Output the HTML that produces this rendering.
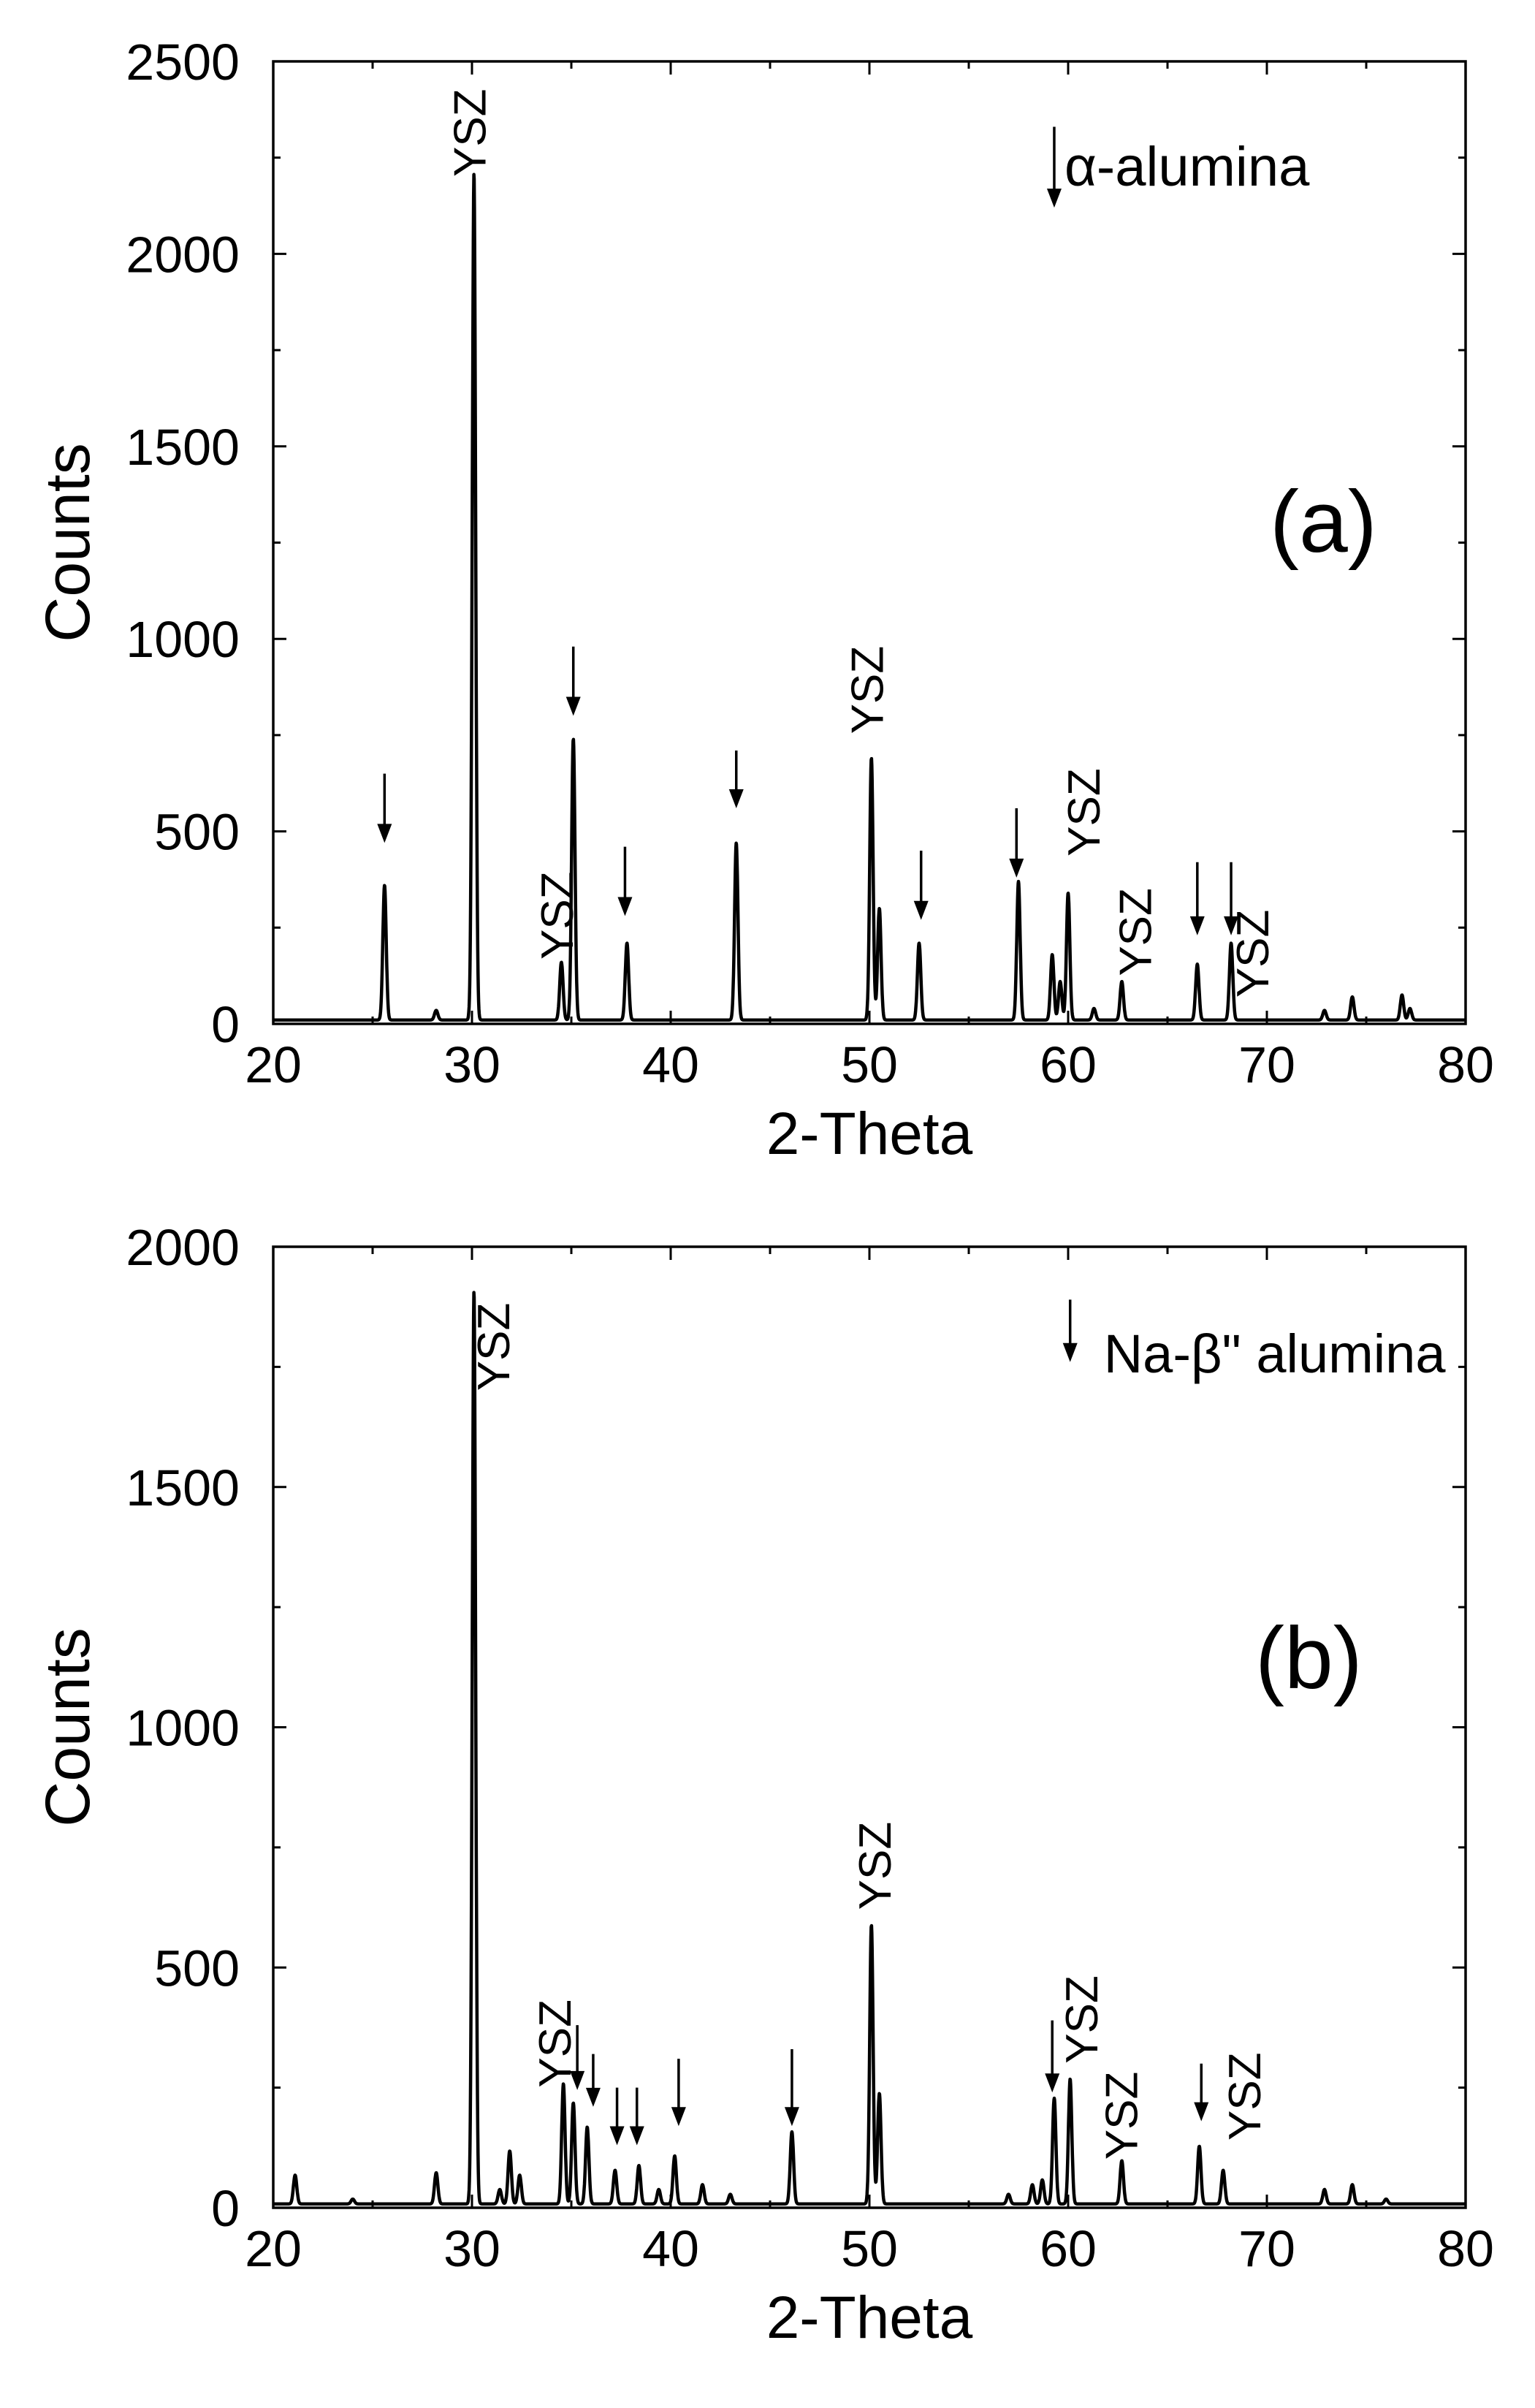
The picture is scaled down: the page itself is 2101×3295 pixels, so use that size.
<!DOCTYPE html>
<html><head><meta charset="utf-8"><style>
html,body{margin:0;padding:0;background:#fff;}
svg{display:block;font-family:"Liberation Sans",Arial,sans-serif;}
</style></head><body>
<svg id="fig" width="2101" height="3295" viewBox="0 0 2101 3295" xmlns="http://www.w3.org/2000/svg"></svg>
<script>
// ---- Panel (a) data ----
const aPeakPos = [25.6,28.2,30.1,34.5,35.1,37.8,43.3,50.1,50.5,52.5,57.5,59.2,59.6,60.0,61.3,62.7,66.5,68.2,72.9,74.3,76.8,77.2];
const aPeakHeight = [350,25,2200,150,730,200,460,680,290,200,360,170,100,330,30,100,145,200,25,60,65,30];
const aArrowPos = [25.6,35.1,37.7,43.3,52.6,57.4,66.5,68.2];
const aArrowTip = [470,800,280,560,270,380,230,230];
const aArrowTop = [650,980,460,710,450,560,420,420];
const aYszPos = [29.9,34.3,49.9,60.8,63.4,69.3];
const aYszBase = [2200,167,753,435,124,68];
const aYTicks = [0,500,1000,1500,2000,2500];
// ---- Panel (b) data ----
const bPeakPos = [21.1,24.0,28.2,30.1,31.4,31.9,32.4,34.6,35.1,35.8,37.2,38.4,39.4,40.2,41.6,43.0,46.1,50.1,50.5,57.0,58.2,58.7,59.3,60.1,62.7,66.6,67.8,72.9,74.3,76.0];
const bPeakHeight = [60,10,65,1900,30,110,60,250,210,160,70,80,30,100,40,20,150,580,230,20,40,50,220,260,90,120,70,30,40,10];
const bArrowPos = [35.3,36.1,37.3,38.3,40.4,46.1,59.2,66.7];
const bArrowTip = [245,210,130,130,170,170,240,180];
const bArrowTop = [380,320,250,250,310,330,390,300];
const bYszPos = [31.1,34.2,50.3,60.7,62.7,68.9];
const bYszBase = [1700,250,620,300,100,140];
const bYTicks = [0,500,1000,1500,2000];
const xTicks = [20,30,40,50,60,70,80];

const NS="http://www.w3.org/2000/svg";
const svg=document.getElementById('fig');
function mk(tag,attrs,parent){const e=document.createElementNS(NS,tag);for(const k in attrs)e.setAttribute(k,attrs[k]);(parent||svg).appendChild(e);return e;}

function panel(cfg){
  const g=mk('g',{});
  
  
  const L=374,R=2006,T=cfg.top,B=cfg.bottom,ymax=cfg.ymax;
  const sx=v=>L+(v-20)/60*(R-L);
  const sy=v=>B-v/ymax*(B-T);
  const fr=mk('rect',{x:L,y:T,width:R-L,height:B-T,fill:'none',stroke:'#000','stroke-width':3.5},g);
  
  
  for(let v=20;v<=80;v+=5){
    const major=v%10===0, len=major?18:10;
    mk('line',{x1:sx(v),x2:sx(v),y1:B,y2:B-len,stroke:'#000','stroke-width':3},g);
    mk('line',{x1:sx(v),x2:sx(v),y1:T,y2:T+len,stroke:'#000','stroke-width':3},g);
  }
  xTicks.forEach(v=>{
    const t=mk('text',{x:sx(v),y:B+80,'font-size':70,'text-anchor':'middle'},g);t.textContent=v;
    
    
  });
  for(let v=0;v<=ymax;v+=250){
    const major=v%500===0,len=major?18:10;
    mk('line',{x1:L,x2:L+len,y1:sy(v),y2:sy(v),stroke:'#000','stroke-width':3},g);
    mk('line',{x1:R,x2:R-len,y1:sy(v),y2:sy(v),stroke:'#000','stroke-width':3},g);
  }
  cfg.yTicks.forEach(v=>{
    const t=mk('text',{x:L-46,y:sy(v)+25,'font-size':70,'text-anchor':'end'},g);t.textContent=v;
    
    
  });
  const yt=mk('text',{x:0,y:0,'font-size':86,'text-anchor':'middle',transform:`translate(122,${(T+B)/2}) rotate(-90)`},g);
  yt.textContent='Counts';
  
  
  const xt=mk('text',{x:(L+R)/2,y:B+178,'font-size':82,'text-anchor':'middle'},g);
  xt.textContent='2-Theta';
  
  
  let d='';
  for(let th=20;th<=80.0001;th+=0.015){
    let y=cfg.base;
    for(let i=0;i<cfg.pos.length;i++){const dx=(th-cfg.pos[i])/0.085;y+=cfg.h[i]*Math.exp(-0.5*dx*dx);}
    d+=(d?'L':'M')+sx(th).toFixed(1)+' '+sy(y).toFixed(1);
  }
  const p=mk('path',{d:d,fill:'none',stroke:'#000','stroke-width':4.5,'stroke-linejoin':'round'},g);
  
  
  function arrow(x,tip,top,nm){
    const X=sx(x),Y1=sy(top),Y2=sy(tip);
    const a=mk('g',{},g);
    
    
    mk('line',{x1:X,x2:X,y1:Y1,y2:Y2-20,stroke:'#000','stroke-width':3.5},a);
    mk('polygon',{points:`${X-10},${Y2-26} ${X+10},${Y2-26} ${X},${Y2}`,fill:'#000'},a);
  }
  cfg.ap.forEach((x,i)=>arrow(x,cfg.atip[i],cfg.atop[i],'phase-arrow'));
  cfg.yp.forEach((x,i)=>{
    const t=mk('text',{x:0,y:0,'font-size':62,transform:`translate(${sx(x)+21},${sy(cfg.yb[i])}) rotate(-90)`},g);
    t.textContent='YSZ';
    
    
  });
  arrow(cfg.legX,cfg.legTip,cfg.legTop,'legend-arrow');
  const lt=mk('text',{x:sx(cfg.legX)+cfg.legDx,y:cfg.legY,'font-size':cfg.legFs},g);
  lt.textContent=cfg.legText;
  
  
  const pl=mk('text',{x:cfg.labX,y:cfg.labY,'font-size':120},g);
  pl.textContent=cfg.lab;
  
  
}
panel({name:'panel-a',top:84,bottom:1401,ymax:2500,yTicks:aYTicks,base:10,pos:aPeakPos,h:aPeakHeight,
  ap:aArrowPos,atip:aArrowTip,atop:aArrowTop,yp:aYszPos,yb:aYszBase,
  legX:59.3,legTip:2120,legTop:2330,legDx:14,legY:254,legFs:76,legText:'α-alumina',lab:'(a)',labX:1738,labY:755});
panel({name:'panel-b',top:1706,bottom:3021,ymax:2000,yTicks:bYTicks,base:8,pos:bPeakPos,h:bPeakHeight,
  ap:bArrowPos,atip:bArrowTip,atop:bArrowTop,yp:bYszPos,yb:bYszBase,
  legX:60.1,legTip:1760,legTop:1890,legDx:46,legY:1878,legFs:74,legText:'Na-β" alumina',lab:'(b)',labX:1718,labY:2310});
</script>
</body></html>
